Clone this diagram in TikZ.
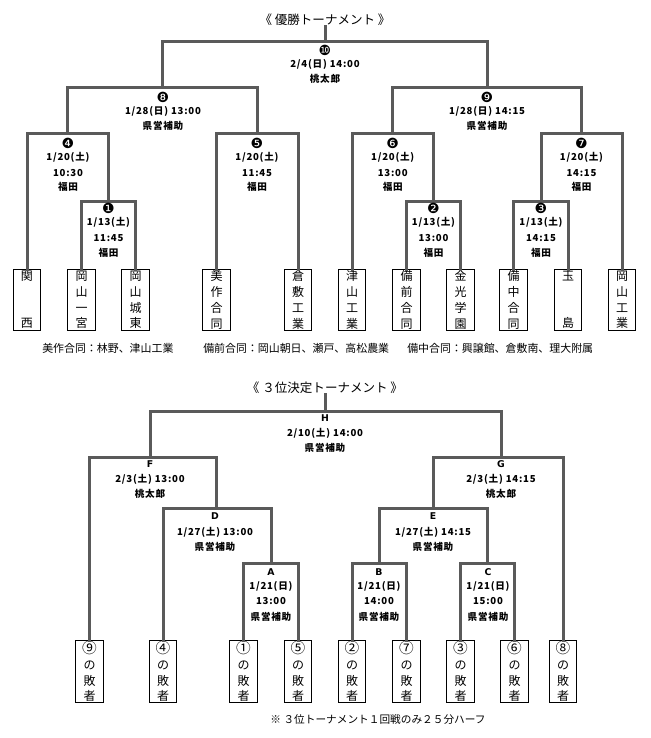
\documentclass[tikz,border=0pt]{standalone}
\usepackage{fontspec}
\setmainfont{Noto Sans CJK JP}
\newfontfamily\dv{DejaVu Sans}
\newfontfamily\infofont[LetterSpace=8]{Noto Sans CJK JP}
\definecolor{brgray}{HTML}{5A5A5A}
\newcommand\bigc[1]{{\fontsize{11pt}{11.8pt}\selectfont #1}}
\begin{document}
\begin{tikzpicture}[x=0.75pt,y=-0.75pt,
  br/.style={draw=brgray,line width=2.25pt,line cap=rect},
  teambox/.style={draw=black,line width=0.75pt,anchor=north,minimum width=20.5pt,minimum height=45.75pt,inner sep=0pt,align=center,font=\fontsize{9pt}{11.8pt}\selectfont},
  info/.style={anchor=base,inner sep=0pt,font=\infofont\bfseries\fontsize{7.2pt}{8pt}\selectfont},
  num/.style={anchor=base,inner sep=0pt,font=\dv\fontsize{10.5pt}{11pt}\selectfont},
  let/.style={anchor=base,inner sep=0pt,font=\dv\bfseries\fontsize{7pt}{8pt}\selectfont},
  ttl/.style={inner sep=0pt,font=\fontsize{9.4pt}{10pt}\selectfont},
  note/.style={anchor=base west,inner sep=0pt,font=\fontsize{8.2pt}{10pt}\selectfont}
]
\useasboundingbox (0,0) rectangle (650,738);
% ================= top tournament =================
\node[ttl] (t1) at (325,20) {《 優勝トーナメント 》};
\coordinate (m10) at (325,42);
\coordinate (m8) at (162.5,88);
\coordinate (m9) at (487,88);
\coordinate (m4) at (67.75,134);
\coordinate (m5) at (257,134);
\coordinate (m6) at (392.75,134);
\coordinate (m7) at (581.5,134);
\coordinate (m1) at (108.5,201);
\coordinate (m2) at (433.5,201);
\coordinate (m3) at (541,201);
% teams
\node[teambox] (k1) at (27,269) {関\\[23.6pt]西};
\node[teambox] (k2) at (81.5,269) {岡\\山\\一\\宮};
\node[teambox] (k3) at (135.5,269) {岡\\山\\城\\東};
\node[teambox] (k4) at (216.5,269) {美\\作\\合\\同};
\node[teambox] (k5) at (298,269) {倉\\敷\\工\\業};
\node[teambox] (k6) at (352,269) {津\\山\\工\\業};
\node[teambox] (k7) at (406.5,269) {備\\前\\合\\同};
\node[teambox] (k8) at (460.5,269) {金\\光\\学\\園};
\node[teambox] (k9) at (513.5,269) {備\\中\\合\\同};
\node[teambox] (k10) at (568,269) {玉\\[23.6pt]島};
\node[teambox] (k11) at (622,269) {岡\\山\\工\\業};
% brackets
\draw[br] (t1.south) -- (m10);
\draw[br] (m8) |- (m10) -| (m9);
\draw[br] (m4) |- (m8) -| (m5);
\draw[br] (m6) |- (m9) -| (m7);
\draw[br] (k1.north) |- (m4) -| (m1);
\draw[br] (k2.north) |- (m1) -| (k3.north);
\draw[br] (k4.north) |- (m5) -| (k5.north);
\draw[br] (k6.north) |- (m6) -| (m2);
\draw[br] (k7.north) |- (m2) -| (k8.north);
\draw[br] (m3) |- (m7) -| (k11.north);
\draw[br] (k9.north) |- (m3) -| (k10.north);
% match labels
\node[num] (n10) at (325,55.5) {❿};
\node[info] (d10) at (325,68) {2/4(日) 14:00};
\node[info] (p10) at (325,82.5) {桃太郎};
\node[num] (n8) at (163,102.5) {❽};
\node[info] (d8) at (163,114.5) {1/28(日) 13:00};
\node[info] (p8) at (163,129.5) {県営補助};
\node[num] (n9) at (487,102.5) {❾};
\node[info] (d9) at (487,114.5) {1/28(日) 14:15};
\node[info] (p9) at (487,129.5) {県営補助};
\node[num] (n4) at (68,148.5) {❹};
\node[info] (d4) at (68,160.5) {1/20(土)};
\node[info] (h4) at (68,176.5) {10:30};
\node[info] (p4) at (68,190.5) {福田};
\node[num] (n5) at (257,148.5) {❺};
\node[info] (d5) at (257,160.5) {1/20(土)};
\node[info] (h5) at (257,176.5) {11:45};
\node[info] (p5) at (257,190.5) {福田};
\node[num] (n6) at (392.75,148.5) {❻};
\node[info] (d6) at (392.75,160.5) {1/20(土)};
\node[info] (h6) at (392.75,176.5) {13:00};
\node[info] (p6) at (392.75,190.5) {福田};
\node[num] (n7) at (581.5,148.5) {❼};
\node[info] (d7) at (581.5,160.5) {1/20(土)};
\node[info] (h7) at (581.5,176.5) {14:15};
\node[info] (p7) at (581.5,190.5) {福田};
\node[num] (n1) at (108.5,213.5) {❶};
\node[info] (d1) at (108.5,225.5) {1/13(土)};
\node[info] (h1) at (108.5,241.5) {11:45};
\node[info] (p1) at (108.5,256.5) {福田};
\node[num] (n2) at (433.5,213.5) {❷};
\node[info] (d2) at (433.5,225.5) {1/13(土)};
\node[info] (h2) at (433.5,241.5) {13:00};
\node[info] (p2) at (433.5,256.5) {福田};
\node[num] (n3) at (541,213.5) {❸};
\node[info] (d3) at (541,225.5) {1/13(土)};
\node[info] (h3) at (541,241.5) {14:15};
\node[info] (p3) at (541,256.5) {福田};
% notes
\node[note] (nt1) at (42,352) {美作合同：林野、津山工業};
\node[note] (nt2) at (203,352) {備前合同：岡山朝日、瀬戸、高松農業};
\node[note] (nt3) at (407,352) {備中合同：興譲館、倉敷南、理大附属};
% ================= 3rd place tournament =================
\node[ttl] (t2) at (325,388) {《 ３位決定トーナメント 》};
\coordinate (mH) at (325,411);
\coordinate (mF) at (150,457);
\coordinate (mG) at (501,457);
\coordinate (mD) at (216,508);
\coordinate (mE) at (433,508);
\coordinate (mA) at (271,563);
\coordinate (mB) at (379.25,563);
\coordinate (mC) at (487.5,563);
\node[teambox,minimum height=46.5pt] (l9) at (89.5,640) {\bigc{⑨}\\の\\敗\\者};
\node[teambox,minimum height=46.5pt] (l4) at (163,640) {\bigc{④}\\の\\敗\\者};
\node[teambox,minimum height=46.5pt] (l1) at (243.5,640) {\bigc{①}\\の\\敗\\者};
\node[teambox,minimum height=46.5pt] (l5) at (298,640) {\bigc{⑤}\\の\\敗\\者};
\node[teambox,minimum height=46.5pt] (l2) at (352,640) {\bigc{②}\\の\\敗\\者};
\node[teambox,minimum height=46.5pt] (l7) at (406.5,640) {\bigc{⑦}\\の\\敗\\者};
\node[teambox,minimum height=46.5pt] (l3) at (460.5,640) {\bigc{③}\\の\\敗\\者};
\node[teambox,minimum height=46.5pt] (l6) at (514.5,640) {\bigc{⑥}\\の\\敗\\者};
\node[teambox,minimum height=46.5pt] (l8) at (563,640) {\bigc{⑧}\\の\\敗\\者};
\draw[br] (t2.south) -- (mH);
\draw[br] (mF) |- (mH) -| (mG);
\draw[br] (l9.north) |- (mF) -| (mD);
\draw[br] (mE) |- (mG) -| (l8.north);
\draw[br] (l4.north) |- (mD) -| (mA);
\draw[br] (mB) |- (mE) -| (mC);
\draw[br] (l1.north) |- (mA) -| (l5.north);
\draw[br] (l2.north) |- (mB) -| (l7.north);
\draw[br] (l3.north) |- (mC) -| (l6.north);
\node[let] (nH) at (325,421.5) {H};
\node[info] (dH) at (325,436.5) {2/10(土) 14:00};
\node[info] (pH) at (325,451.5) {県営補助};
\node[let] (nF) at (150,467.5) {F};
\node[info] (dF) at (150,482.5) {2/3(土) 13:00};
\node[info] (pF) at (150,497.5) {桃太郎};
\node[let] (nG) at (501,467.5) {G};
\node[info] (dG) at (501,482.5) {2/3(土) 14:15};
\node[info] (pG) at (501,497.5) {桃太郎};
\node[let] (nD) at (215,519.5) {D};
\node[info] (dD) at (215,535.5) {1/27(土) 13:00};
\node[info] (pD) at (215,550.5) {県営補助};
\node[let] (nE) at (433,519.5) {E};
\node[info] (dE) at (433,535.5) {1/27(土) 14:15};
\node[info] (pE) at (433,550.5) {県営補助};
\node[let] (nA) at (271,575.5) {A};
\node[info] (dA) at (271,589.5) {1/21(日)};
\node[info] (hA) at (271,604.5) {13:00};
\node[info] (pA) at (271,620.5) {県営補助};
\node[let] (nB) at (379,575.5) {B};
\node[info] (dB) at (379,589.5) {1/21(日)};
\node[info] (hB) at (379,604.5) {14:00};
\node[info] (pB) at (379,620.5) {県営補助};
\node[let] (nC) at (488,575.5) {C};
\node[info] (dC) at (488,589.5) {1/21(日)};
\node[info] (hC) at (488,604.5) {15:00};
\node[info] (pC) at (488,620.5) {県営補助};
\node[ttl,font=\fontsize{8pt}{10pt}\selectfont] (fn) at (378,719) {※ ３位トーナメント１回戦のみ２５分ハーフ};
\end{tikzpicture}
\end{document}
